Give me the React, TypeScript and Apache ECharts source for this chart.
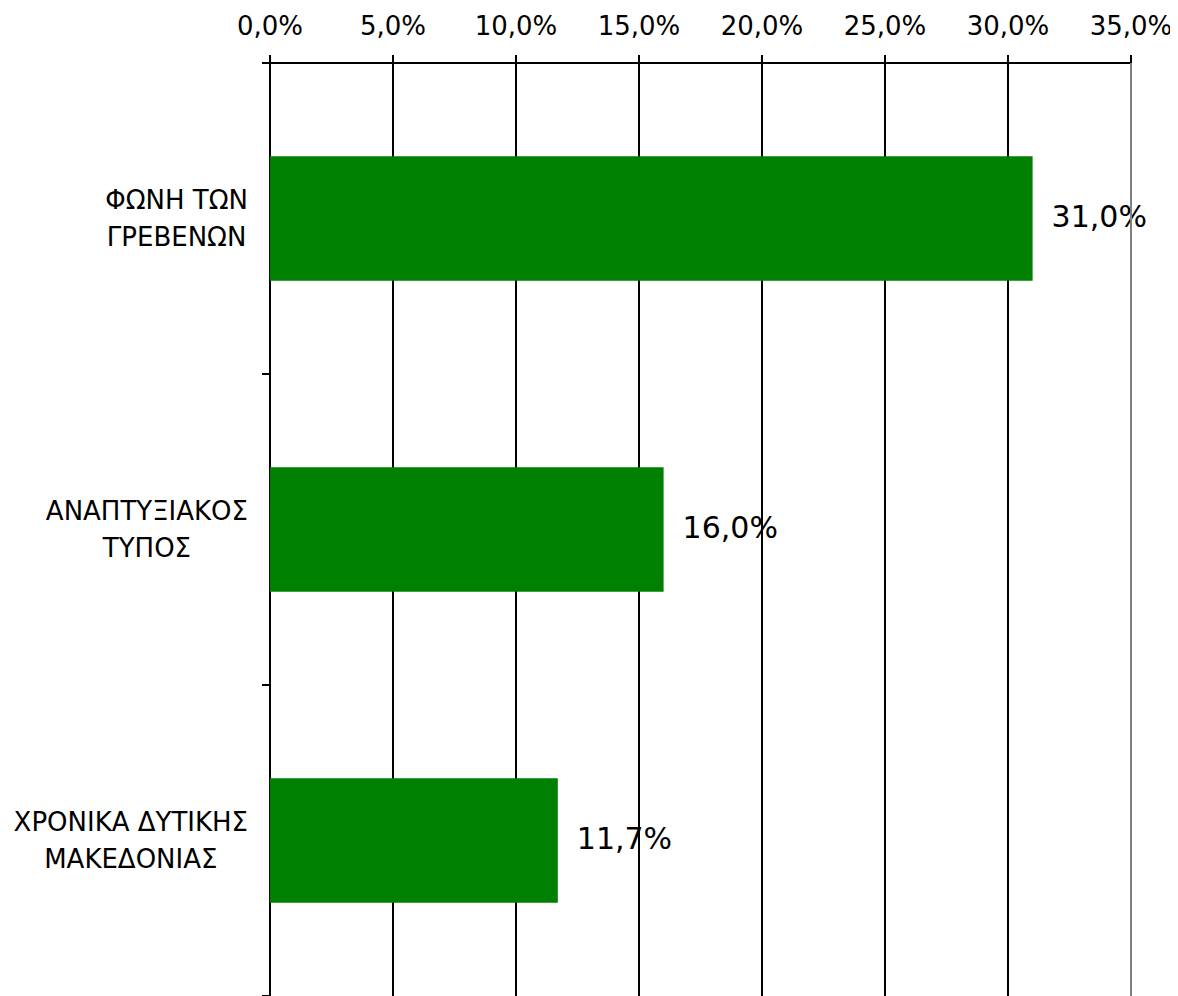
import React, { useEffect, useRef } from "react";
import * as echarts from "echarts";

const categories = ["ΦΩΝΗ ΤΩΝ\nΓΡΕΒΕΝΩΝ", "ΑΝΑΠΤΥΞΙΑΚΟΣ\nΤΥΠΟΣ", "ΧΡΟΝΙΚΑ ΔΥΤΙΚΗΣ\nΜΑΚΕΔΟΝΙΑΣ"];
const values = [31.0, 16.0, 11.7];
const axisMin = 0;
const axisMax = 35;
const axisInterval = 5;

const fmt = (v: number) => v.toFixed(1).replace(".", ",") + "%";

export default function App() {
  const ref = useRef<HTMLDivElement>(null);
  useEffect(() => {
    if (!ref.current) return;
    const chart = echarts.init(ref.current, null, { renderer: "svg" });
    const font = "DejaVu Sans";
    chart.setOption({
      animation: false,
      backgroundColor: "#ffffff",
      grid: { left: 262, right: 47, top: 55, bottom: -5, containLabel: false },
      xAxis: {
        type: "value",
        position: "top",
        min: axisMin,
        max: axisMax,
        interval: axisInterval,
        axisLine: { show: true, lineStyle: { color: "#000", width: 2 } },
        axisTick: { show: true, length: 8, lineStyle: { color: "#000", width: 2 } },
        axisLabel: {
          show: true,
          margin: 24,
          fontFamily: font,
          fontSize: 26,
          color: "#000",
          formatter: (v: number) => fmt(v),
        },
        splitLine: { show: true, lineStyle: { color: "#000", width: 2 } },
      },
      yAxis: {
        type: "category",
        data: categories,
        inverse: true,
        axisLine: { show: true, lineStyle: { color: "#000", width: 2 } },
        axisTick: { show: true, length: 8, lineStyle: { color: "#000", width: 2 } },
        axisLabel: {
          margin: 22,
          align: "right",
          color: "#000",
          formatter: (v: string) =>
            v
              .split("\n")
              .map((l) => `{c|${l}}`)
              .join("\n"),
          rich: {
            c: {
              align: "center",
              fontFamily: font,
              fontSize: 26,
              lineHeight: 37,
              color: "#000",
            },
          },
        },
        splitLine: { show: false },
      },
      series: [
        {
          type: "bar",
          data: values,
          barWidth: "40%",
          itemStyle: { color: "#008000" },
          label: {
            show: true,
            position: "right",
            distance: 19,
            fontFamily: font,
            fontSize: 30,
            color: "#000",
            offset: [0, -2],
            formatter: (p: any) => fmt(p.value),
          },
          markLine: {
            silent: true,
            symbol: "none",
            label: { show: false },
            lineStyle: { color: "#808080", width: 2, type: "solid" },
            data: [{ xAxis: axisMax }],
          },
        },
      ],
    });
    return () => chart.dispose();
  }, []);
  return <div ref={ref} style={{ width: 1170, height: 988 }} />;
}
